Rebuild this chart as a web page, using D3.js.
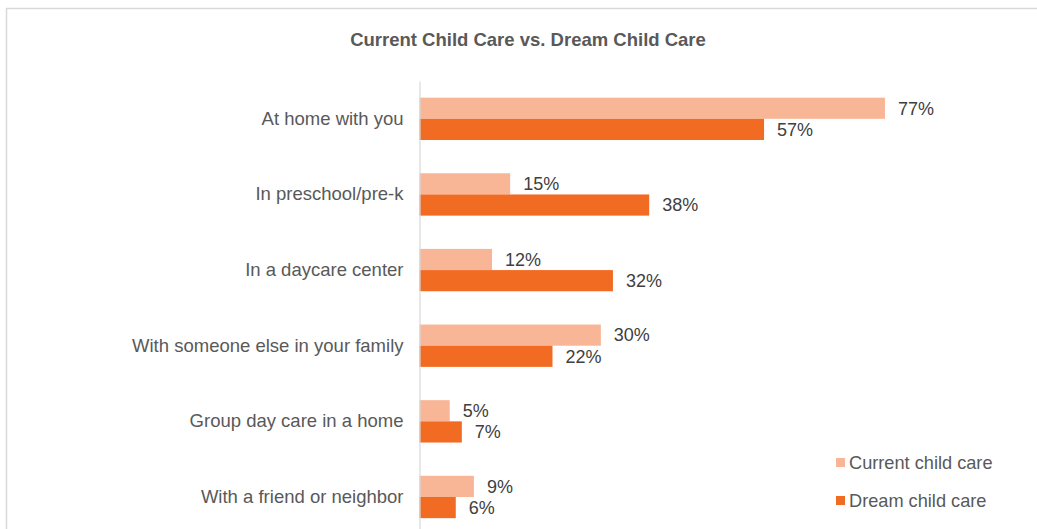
<!DOCTYPE html>
<html>
<head>
<meta charset="utf-8">
<script src="https://cdn.jsdelivr.net/npm/d3@7"></script>
<style>
  html, body { margin: 0; padding: 0; background: #fff; }
  svg { display: block; font-family: "Liberation Sans", Arial, sans-serif; }
</style>
</head>
<body>
<svg id="chart" width="1037" height="529"></svg>
<script>
// Survey answers: where children are cared for now vs. where parents would like them to be
const categories = [
  "At home with you",
  "In preschool/pre-k",
  "In a daycare center",
  "With someone else in your family",
  "Group day care in a home",
  "With a friend or neighbor"
];
const currentCare = [77, 15, 12, 30, 5, 9];
const dreamCare   = [57, 38, 32, 22, 7, 6];
const seriesNames = ["Current child care", "Dream child care"];
const seriesColors = ["#F8B696", "#F26B23"];

const title = "Current Child Care vs. Dream Child Care";

const svg = d3.select("#chart");

// Chart frame
svg.append("rect")
  .attr("x", 6.5).attr("y", 8.5)
  .attr("width", 1040).attr("height", 540)
  .attr("fill", "#fff")
  .attr("stroke", "#D9D9D9")
  .attr("stroke-width", 1.5);

svg.append("text")
  .attr("x", 528).attr("y", 46)
  .attr("text-anchor", "middle")
  .attr("font-size", 18.5)
  .attr("font-weight", "bold")
  .attr("fill", "#595959")
  .text(title);

const plotLeft = 419.5, plotRight = 1024;
const plotTop = 81, plotBottom = 534.8;

const x = d3.scaleLinear().domain([0, 100]).range([plotLeft, plotRight]);
const y = d3.scaleBand().domain(categories)
  .range([plotTop, plotBottom])
  .paddingInner(0.44).paddingOuter(0.22);
const ySub = d3.scaleBand().domain([0, 1]).range([0, y.bandwidth()]);

const rows = categories.map((c, i) => ({ cat: c, vals: [currentCare[i], dreamCare[i]] }));

const g = svg.selectAll("g.row").data(rows).join("g")
  .attr("class", "row")
  .attr("transform", d => `translate(0,${y(d.cat)})`);

g.selectAll("rect").data(d => d.vals).join("rect")
  .attr("x", x(0))
  .attr("y", (v, j) => ySub(j))
  .attr("width", v => x(v) - x(0))
  .attr("height", ySub.bandwidth())
  .attr("fill", (v, j) => seriesColors[j]);

g.selectAll("text.val").data(d => d.vals).join("text")
  .attr("class", "val")
  .attr("x", v => x(v) + 13)
  .attr("y", (v, j) => ySub(j) + ySub.bandwidth() / 2)
  .attr("dy", "0.35em")
  .attr("font-size", 18)
  .attr("fill", "#404040")
  .text(v => v + "%");

// Category axis
const yAxis = d3.axisLeft(y).tickSize(0).tickPadding(16);
const axisG = svg.append("g")
  .attr("transform", `translate(${plotLeft},0)`)
  .call(yAxis);
axisG.select(".domain").attr("stroke", "#D9D9D9").attr("stroke-width", 1.2);
axisG.selectAll("text")
  .attr("font-size", 18.5)
  .attr("font-family", "Liberation Sans, Arial, sans-serif")
  .attr("fill", "#595959");

// Legend
const legend = svg.append("g").selectAll("g").data(seriesNames).join("g")
  .attr("transform", (d, i) => `translate(836,${462.5 + i * 38})`);
legend.append("rect")
  .attr("x", 0).attr("y", -4.5)
  .attr("width", 9).attr("height", 9)
  .attr("fill", (d, i) => seriesColors[i]);
legend.append("text")
  .attr("x", 13).attr("y", 0)
  .attr("dy", "0.35em")
  .attr("font-size", 18.2)
  .attr("fill", "#595959")
  .text(d => d);
</script>
</body>
</html>
